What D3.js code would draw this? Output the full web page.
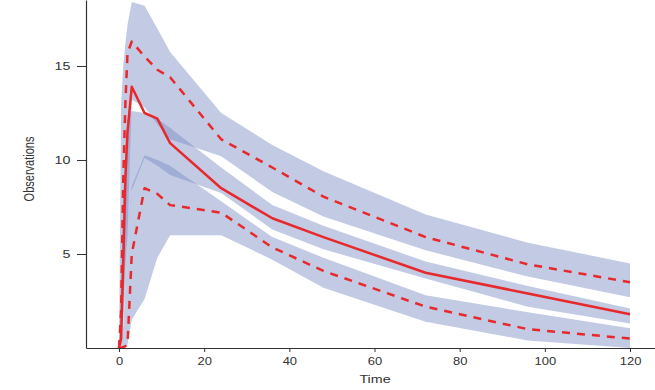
<!doctype html>
<html>
<head>
<meta charset="utf-8" />
<title>VPC</title>
<script src="https://cdn.jsdelivr.net/npm/d3@7"></script>
<style>
  body{margin:0;padding:0;background:#fff;}
  text{font-family:"Liberation Sans", Arial, Helvetica, sans-serif;fill:#333;}
</style>
</head>
<body>
<script>

// nominal sampling times
var times    = [0, 0.5, 1, 1.5, 2, 3, 6, 9, 12, 24, 36, 48, 72, 96, 120];

// observed percentiles (red lines)
var obsP95   = [0, 2.0, 9.0, 13.0, 15.7, 16.3, 15.5, 14.8, 14.4, 11.1, 9.6, 8.05, 5.9, 4.45, 3.5];
var obsP50   = [0, 0.5, 4.5, 9.0, 11.5, 13.9, 12.5, 12.2, 10.9, 8.5, 6.9, 5.9, 4.0, 2.9, 1.8];
var obsP05   = [0, 0, 0.05, 0.1, 0.2, 5.0, 8.5, 8.2, 7.6, 7.2, 5.35, 4.1, 2.2, 1.0, 0.5];

// simulated confidence intervals of the percentiles (blue bands)
var ciP95Lo  = [0, 1.0, 2.5, 4.5, 6.0, 13.2, 12.8, 11.9, 11.1, 10.2, 8.3, 7.0, 5.2, 3.8, 2.7];
var ciP95Hi  = [0, 13.0, 15.0, 16.2, 17.2, 18.4, 18.2, 17.0, 15.75, 12.5, 10.8, 9.4, 7.1, 5.6, 4.5];
var ciP50Lo  = [0, 0.3, 1.5, 3.0, 5.0, 8.4, 10.1, 9.7, 9.2, 8.25, 6.3, 5.25, 3.7, 2.2, 1.3];
var ciP50Hi  = [0, 4.0, 8.0, 10.5, 12.2, 12.6, 12.5, 12.2, 11.7, 9.6, 7.6, 6.5, 4.6, 3.3, 2.1];
var ciP05Lo  = [0, 0, 0, 0, 0.2, 1.5, 2.6, 4.8, 6.0, 6.0, 4.7, 3.2, 1.4, 0.4, 0.0];
var ciP05Hi  = [0, 0.3, 1.2, 3.0, 5.0, 8.6, 10.25, 10.0, 9.7, 7.8, 5.9, 4.8, 2.8, 1.9, 1.05];

// axis ticks
var xTicks = [0, 20, 40, 60, 80, 100, 120];
var yTicks = [5, 10, 15];

var W = 655, H = 390;
// the original picture is stretched sideways, so text gets a little x scale
var stretch = 1.3;

var svg = d3.select("body").append("svg").attr("width", W).attr("height", H);

var x = d3.scaleLinear().domain([-7.75, 126.1]).range([86, 656]);
var y = d3.scaleLinear().domain([0, 18.51]).range([348, 0]);

svg.append("clipPath").attr("id", "plotClip")
  .append("rect").attr("x", 86).attr("y", 0).attr("width", 570).attr("height", 348);

var plot = svg.append("g").attr("clip-path", "url(#plotClip)");

//bands
var bands = [[ciP95Lo, ciP95Hi], [ciP50Lo, ciP50Hi], [ciP05Lo, ciP05Hi]];
bands.forEach(function(b) {
  var area = d3.area()
    .x(function(d, i) { return x(times[i]); })
    .y0(function(d, i) { return y(b[0][i]); })
    .y1(function(d, i) { return y(b[1][i]); });
  plot.append("path").datum(times)
    .attr("d", area)
    .attr("fill", "rgb(120,138,196)")
    .attr("fill-opacity", 0.45)
    .attr("stroke", "none");
});

//observed lines
var lines = [[obsP95, "8,7"], [obsP05, "8,7"], [obsP50, null]];
lines.forEach(function(l) {
  var line = d3.line()
    .x(function(d, i) { return x(times[i]); })
    .y(function(d) { return y(d); });
  plot.append("path").datum(l[0])
    .attr("d", line)
    .attr("fill", "none")
    .attr("stroke", "#e8292b")
    .attr("stroke-width", 2.5)
    .attr("stroke-linejoin", "round")
    .attr("stroke-dasharray", l[1]);
});

//axes
var xAxis = d3.axisBottom(x).tickValues(xTicks).tickSize(4).tickSizeOuter(0).tickPadding(6);
var yAxis = d3.axisLeft(y).tickValues(yTicks).tickSize(9).tickSizeOuter(0).tickPadding(6);

var gx = svg.append("g").attr("transform", "translate(0,348)").call(xAxis);
var gy = svg.append("g").attr("transform", "translate(86,0)").call(yAxis);

[gx, gy].forEach(function(g) {
  g.select(".domain").attr("stroke", "#333").attr("stroke-width", 1.2);
  g.selectAll(".tick line").attr("stroke", "#333");
  g.selectAll(".tick text").attr("font-size", 10).attr("fill", "#333")
    .attr("font-family", "Liberation Sans, Arial, sans-serif");
});
gx.selectAll(".tick text").attr("transform", "scale(" + stretch + ",1)");
gy.selectAll(".tick text").attr("font-size", 11).attr("x", -12).attr("transform", "scale(" + stretch + ",1)");

//axis titles
svg.append("text")
  .attr("transform", "translate(375,383) scale(" + stretch + ",1)")
  .attr("text-anchor", "middle").attr("font-size", 11).text("Time");

svg.append("text")
  .attr("transform", "translate(34,169) scale(" + stretch + ",1) rotate(-90)")
  .attr("text-anchor", "middle").attr("font-size", 11).text("Observations");

</script>
</body>
</html>
